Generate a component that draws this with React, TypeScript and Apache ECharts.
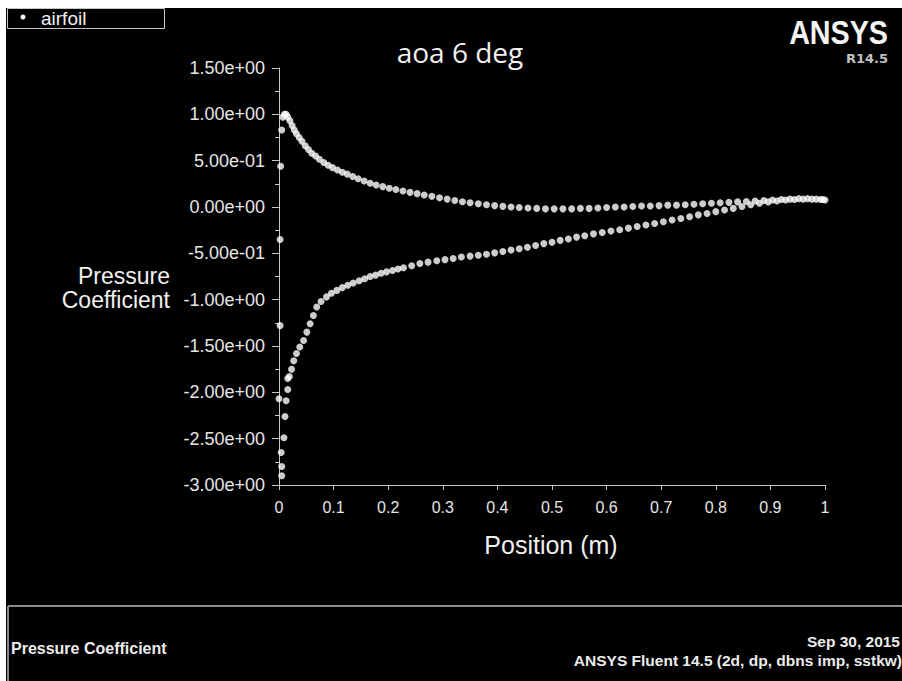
import React, { useEffect, useRef } from "react";
import * as echarts from "echarts";

// Upper branch (positive Cp side)
const upperX = [
  0.007, 0.010, 0.013, 0.016, 0.020, 0.024, 0.028, 0.032, 0.037, 0.042,
  0.048, 0.054, 0.060, 0.067, 0.074, 0.082, 0.090, 0.098, 0.107, 0.116,
  0.125, 0.135, 0.145, 0.156, 0.167, 0.178, 0.190, 0.202, 0.214, 0.227,
  0.240, 0.253, 0.266, 0.280, 0.294, 0.308, 0.322, 0.336, 0.350, 0.365,
  0.380, 0.395, 0.410, 0.425, 0.440, 0.456, 0.472, 0.488, 0.504, 0.520,
  0.536, 0.552, 0.568, 0.584, 0.600, 0.616, 0.632, 0.648, 0.664, 0.680,
  0.696, 0.712, 0.728, 0.744, 0.760, 0.776, 0.792, 0.808, 0.824, 0.840,
  0.856, 0.872, 0.888, 0.904, 0.920, 0.936, 0.952, 0.968, 0.984, 0.996,
  1.0,
];
const upperCp = [
  0.97, 1.0, 1.0, 0.97, 0.93, 0.88, 0.83, 0.79, 0.75, 0.71,
  0.66, 0.62, 0.58, 0.55, 0.515, 0.48, 0.45, 0.425, 0.4, 0.375,
  0.355, 0.33, 0.305, 0.28, 0.256, 0.238, 0.22, 0.203, 0.188, 0.172,
  0.158, 0.144, 0.13, 0.115, 0.1, 0.085, 0.07, 0.057, 0.045, 0.035,
  0.025, 0.015, 0.007, 0.0, -0.005, -0.01, -0.015, -0.02, -0.02, -0.02,
  -0.02, -0.015, -0.015, -0.01, -0.005, 0.0, 0.0, 0.005, 0.01, 0.01,
  0.015, 0.02, 0.02, 0.025, 0.03, 0.035, 0.04, 0.045, 0.05, 0.055,
  0.06, 0.065, 0.07, 0.075, 0.08, 0.085, 0.09, 0.09, 0.085, 0.08,
  0.075,
];

// Lower branch (suction side)
const lowerX = [
  0.019, 0.023, 0.027, 0.032, 0.038, 0.045, 0.051, 0.057, 0.063, 0.069,
  0.077, 0.087, 0.096, 0.106, 0.116, 0.126, 0.136, 0.147, 0.157, 0.167,
  0.177, 0.187, 0.197, 0.208, 0.218, 0.228, 0.243, 0.258, 0.273, 0.289,
  0.304, 0.319, 0.334, 0.350, 0.365, 0.380, 0.395, 0.410, 0.425, 0.440,
  0.455, 0.470, 0.485, 0.500, 0.515, 0.530, 0.545, 0.560, 0.576, 0.592,
  0.608, 0.624, 0.640, 0.656, 0.672, 0.688, 0.704, 0.720, 0.736, 0.752,
  0.768, 0.784, 0.800, 0.816, 0.832, 0.848, 0.864, 0.880, 0.896, 0.912,
  0.928, 0.944, 0.960, 0.976, 0.992,
];
const lowerCp = [
  -1.83, -1.75, -1.66, -1.58, -1.51, -1.44, -1.35, -1.26, -1.17, -1.08,
  -1.02, -0.97, -0.93, -0.9, -0.87, -0.845, -0.82, -0.795, -0.775, -0.75,
  -0.735, -0.715, -0.7, -0.685, -0.67, -0.655, -0.635, -0.61, -0.595, -0.58,
  -0.568, -0.555, -0.54, -0.53, -0.52, -0.51, -0.495, -0.48, -0.465, -0.45,
  -0.435, -0.415, -0.395, -0.38, -0.36, -0.345, -0.325, -0.31, -0.29, -0.275,
  -0.26, -0.245, -0.228, -0.21, -0.195, -0.178, -0.16, -0.14, -0.125, -0.105,
  -0.085, -0.07, -0.05, -0.032, -0.015, 0.005, 0.025, 0.04, 0.055, 0.065,
  0.075, 0.08, 0.085, 0.085, 0.08,
];

// Scattered leading-edge nodes
const leX = [0.0, 0.002, 0.002, 0.003, 0.005, 0.016, 0.016, 0.013, 0.011, 0.009, 0.004, 0.005, 0.005];
const leCp = [-2.07, -1.28, -0.35, 0.44, 0.83, -1.85, -1.97, -2.09, -2.26, -2.49, -2.65, -2.8, -2.9];

const seriesName = "airfoil";
const titleText = "aoa 6 deg";
const xAxisName = "Position (m)";
const yAxisNameLines = ["Pressure", "Coefficient"];
const footerLeft = "Pressure Coefficient";
const footerDate = "Sep 30, 2015";
const footerInfo = "ANSYS Fluent 14.5 (2d, dp, dbns imp, sstkw)";

function fmtExp(v: number): string {
  let x = Math.round(v * 1000) / 1000;
  if (Math.abs(x) < 1e-9) x = 0;
  const s = x.toExponential(2);
  const [m, e] = s.split("e");
  const sign = e[0] === "-" ? "-" : "+";
  const d = e.replace(/[+-]/, "").padStart(2, "0");
  return `${m}e${sign}${d}`;
}

function zip(xs: number[], ys: number[]) {
  return xs.map((x, i) => [x, ys[i]]);
}

export default function App() {
  const ref = useRef<HTMLDivElement>(null);
  useEffect(() => {
    if (!ref.current) return;
    const chart = echarts.init(ref.current, undefined, { renderer: "svg" });
    const font = "Liberation Sans, Arial, sans-serif";
    const data = [...zip(upperX, upperCp), ...zip(lowerX, lowerCp), ...zip(leX, leCp)];
    chart.setOption({
      animation: false,
      backgroundColor: "#000",
      grid: { left: 279, right: 77, top: 68, bottom: 196 },
      xAxis: {
        type: "value",
        min: 0,
        max: 1,
        interval: 0.1,
        splitLine: { show: false },
        axisLine: { show: true, onZero: false, lineStyle: { color: "#c8c8c8", width: 1 } },
        axisTick: { show: true, length: 5, lineStyle: { color: "#c8c8c8" } },
        axisLabel: {
          color: "#e6e6e6",
          fontFamily: font,
          fontSize: 16,
          margin: 14,
          formatter: (v: number) => String(Math.round(v * 10) / 10),
        },
      },
      yAxis: {
        type: "value",
        min: -3,
        max: 1.5,
        interval: 0.5,
        splitLine: { show: false },
        axisLine: { show: true, onZero: false, lineStyle: { color: "#c8c8c8", width: 1 } },
        axisTick: { show: true, length: 7, lineStyle: { color: "#c8c8c8" } },
        minorTick: { show: true, splitNumber: 2, length: 4, lineStyle: { color: "#c8c8c8" } },
        axisLabel: {
          color: "#e6e6e6",
          fontFamily: font,
          fontSize: 18,
          margin: 14,
          formatter: (v: number) => fmtExp(v),
        },
      },
      series: [
        {
          name: seriesName,
          type: "scatter",
          data,
          symbol: "circle",
          symbolSize: 7,
          itemStyle: { color: "#ffffff" },
        },
      ],
      graphic: [
        { type: "rect", shape: { x: 0, y: 0, width: 902, height: 8 }, style: { fill: "#fff" } },
        { type: "rect", shape: { x: 0, y: 0, width: 6, height: 681 }, style: { fill: "#fff" } },
        {
          type: "rect",
          shape: { x: 7.5, y: 8.5, width: 157, height: 20 },
          style: { fill: "none", stroke: "#c8c8c8", lineWidth: 1 },
        },
        { type: "circle", shape: { cx: 23, cy: 17, r: 2.5 }, style: { fill: "#fff" } },
        {
          type: "text",
          x: 41,
          y: 18,
          style: { text: seriesName, fill: "#f0f0f0", font: `19px ${font}`, textVerticalAlign: "middle" },
        },
        {
          type: "text",
          x: 460,
          y: 52,
          style: { text: titleText, fill: "#f0f0f0", font: `28px "Open Sans", sans-serif`, textAlign: "center", textVerticalAlign: "middle" },
        },
        {
          type: "text",
          x: 888,
          y: 33,
          scaleX: 0.87,
          style: { text: "ANSYS", fill: "#f4f4f4", font: `bold 33px ${font}`, textAlign: "right", textVerticalAlign: "middle" },
        },
        {
          type: "text",
          x: 888,
          y: 58,
          style: { text: "R14.5", fill: "#c0c0c0", font: `bold 13px "DejaVu Sans", sans-serif`, textAlign: "right", textVerticalAlign: "middle" },
        },
        {
          type: "text",
          x: 170,
          y: 276,
          style: { text: yAxisNameLines[0], fill: "#f0f0f0", font: `23px ${font}`, textAlign: "right", textVerticalAlign: "middle" },
        },
        {
          type: "text",
          x: 170,
          y: 300,
          style: { text: yAxisNameLines[1], fill: "#f0f0f0", font: `23px ${font}`, textAlign: "right", textVerticalAlign: "middle" },
        },
        {
          type: "text",
          x: 551,
          y: 545,
          style: { text: xAxisName, fill: "#f0f0f0", font: `25px ${font}`, textAlign: "center", textVerticalAlign: "middle" },
        },
        {
          type: "line",
          shape: { x1: 8, y1: 606, x2: 902, y2: 606 },
          style: { stroke: "#8a8a8a", lineWidth: 2 },
        },
        {
          type: "line",
          shape: { x1: 8, y1: 606, x2: 8, y2: 681 },
          style: { stroke: "#8a8a8a", lineWidth: 2 },
        },
        {
          type: "text",
          x: 11,
          y: 648,
          style: { text: footerLeft, fill: "#ececec", font: `bold 16px ${font}`, textVerticalAlign: "middle" },
        },
        {
          type: "text",
          x: 900,
          y: 641,
          style: { text: footerDate, fill: "#ececec", font: `bold 15.5px ${font}`, textAlign: "right", textVerticalAlign: "middle" },
        },
        {
          type: "text",
          x: 902,
          y: 660,
          style: { text: footerInfo, fill: "#ececec", font: `bold 15.5px ${font}`, textAlign: "right", textVerticalAlign: "middle" },
        },
      ],
    });
    return () => chart.dispose();
  }, []);
  return (
    <div
      ref={ref}
      style={{ position: "fixed", left: 0, top: 0, width: 902, height: 681 }}
    />
  );
}
